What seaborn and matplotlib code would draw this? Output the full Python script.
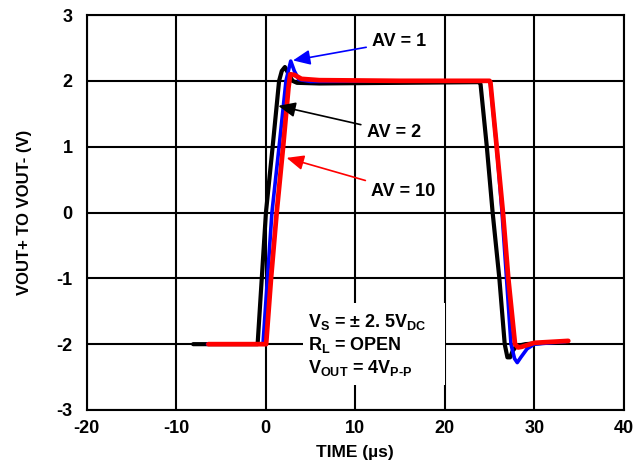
import matplotlib
matplotlib.use("Agg")
import matplotlib.pyplot as plt
from matplotlib.patches import Rectangle
import seaborn as sns
import pandas as pd

# ---- data ----
t_av2 = [-8.1, -0.9, 0.03, 0.78, 1.5, 1.8, 2.15, 2.5, 3.0, 3.5, 6.0, 15.0, 23.8,
         24.0, 24.7, 25.35, 26.1, 26.7, 27.0, 27.3, 27.6, 28.0, 29.0, 31.0, 33.0]
v_av2 = [-2.0, -2.0, 0.0, 1.0, 2.0, 2.15, 2.21, 2.12, 2.0, 1.97, 1.96, 1.97, 1.98,
         1.95, 1.0, 0.0, -1.0, -2.0, -2.2, -2.2, -2.1, -2.03, -2.0, -1.98, -1.97]

t_av1 = [-6.5, -0.3, 0.7, 1.5, 2.27, 2.8, 3.2, 3.7, 5.0, 15.0, 25.0,
         25.1, 25.8, 26.4, 26.9, 27.4, 27.8, 28.1, 28.5, 29.2, 30.0, 33.5]
v_av1 = [-2.0, -2.0, 0.0, 1.0, 2.0, 2.30, 2.15, 2.02, 1.99, 2.0, 2.0,
         1.95, 1.0, 0.0, -1.0, -2.0, -2.22, -2.28, -2.2, -2.07, -2.0, -1.96]

t_av10 = [-6.4, 0.05, 0.6, 1.23, 1.95, 2.55, 2.75, 3.2, 4.0, 6.0, 15.0, 25.0,
          25.1, 25.8, 26.5, 27.1, 27.85, 28.2, 28.6, 30.0, 33.8]
v_av10 = [-2.0, -2.0, -1.0, 0.0, 1.0, 1.9, 2.1, 2.09, 2.03, 2.01, 2.0, 2.0,
          1.98, 1.0, 0.0, -1.0, -2.0, -2.05, -2.04, -1.98, -1.95]

x_ticks = [-20, -10, 0, 10, 20, 30, 40]
y_ticks = [-3, -2, -1, 0, 1, 2, 3]

sns.set_theme(style="white")
plt.rcParams["font.family"] = ["Liberation Sans", "DejaVu Sans"]
plt.rcParams["font.weight"] = "bold"
plt.rcParams["axes.unicode_minus"] = False
plt.rcParams["mathtext.fontset"] = "custom"
plt.rcParams["mathtext.rm"] = "Liberation Sans:bold"
plt.rcParams["mathtext.it"] = "Liberation Sans:bold"
plt.rcParams["mathtext.bf"] = "Liberation Sans:bold"
plt.rcParams["mathtext.default"] = "rm"

fig = plt.figure(figsize=(6.42, 4.66), dpi=100)
ax = fig.add_axes([86.6 / 642, 56 / 466, (623.8 - 86.6) / 642, 395 / 466])

df2 = pd.DataFrame({"t": t_av2, "v": v_av2})
df1 = pd.DataFrame({"t": t_av1, "v": v_av1})
df10 = pd.DataFrame({"t": t_av10, "v": v_av10})

sns.lineplot(data=df2, x="t", y="v", ax=ax, color="black", lw=3.0, sort=False,
             estimator=None, zorder=3)
sns.lineplot(data=df1, x="t", y="v", ax=ax, color="#0000ff", lw=2.6, sort=False,
             estimator=None, zorder=4)
sns.lineplot(data=df10, x="t", y="v", ax=ax, color="#ff0000", lw=3.4, sort=False,
             estimator=None, zorder=5)

ax.set_xlim(-20, 40)
ax.set_ylim(-3, 3)
ax.set_xticks(x_ticks)
ax.set_yticks(y_ticks)
ax.grid(True, color="black", lw=1.5)
ax.set_axisbelow(True)
for s in ax.spines.values():
    s.set_color("black")
    s.set_linewidth(1.5)
ax.tick_params(axis="both", length=0, labelsize=13, colors="black")
ax.tick_params(axis="x", pad=7)
ax.tick_params(axis="y", pad=10)
for lab in ax.get_xticklabels() + ax.get_yticklabels():
    lab.set_fontweight("bold")

ax.set_xlabel("TIME (µs)", fontsize=12.5, fontweight="bold", color="black", labelpad=6)
ax.set_ylabel("VOUT+ TO VOUT- (V)", fontsize=12, fontweight="bold", color="black", labelpad=18)

# annotations with arrows
ann = dict(fontsize=13, fontweight="bold", va="center", ha="left", color="black")
ap = "-|>,head_length=0.8,head_width=0.35"
ax.annotate("AV = 1", xy=(3.05, 2.31), xytext=(11.9, 2.6),
            arrowprops=dict(arrowstyle=ap, color="#0000ff", lw=1.2, shrinkA=2, shrinkB=0),
            zorder=6, **ann)
ax.annotate("AV = 2", xy=(1.41, 1.62), xytext=(11.3, 1.22),
            arrowprops=dict(arrowstyle=ap, color="black", lw=1.2, shrinkA=2, shrinkB=0),
            zorder=6, **ann)
ax.annotate("AV = 10", xy=(2.34, 0.83), xytext=(11.8, 0.32),
            arrowprops=dict(arrowstyle=ap, color="#ff0000", lw=1.2, shrinkA=2, shrinkB=0),
            zorder=6, **ann)

# white panel behind the conditions text (covers gridlines)
ax.add_patch(Rectangle((4.2, -2.62), 15.8, 1.25, facecolor="white", edgecolor="none",
                       zorder=1.5))
box = dict(fontsize=13, fontweight="bold", va="center", ha="left", color="black", zorder=6)
ax.text(4.7, (212.7 - 322) / 65.8, r"V$_\mathrm{S}$ = ± 2. 5V$_\mathrm{DC}$", **box)
ax.text(4.7, (212.7 - 345) / 65.8, r"R$_\mathrm{L}$ = OPEN", **box)
ax.text(4.7, (212.7 - 368) / 65.8, r"V$_\mathrm{OUT}$ = 4V$_\mathrm{P\text{-}P}$", **box)

fig.savefig("out.png", dpi=100)
